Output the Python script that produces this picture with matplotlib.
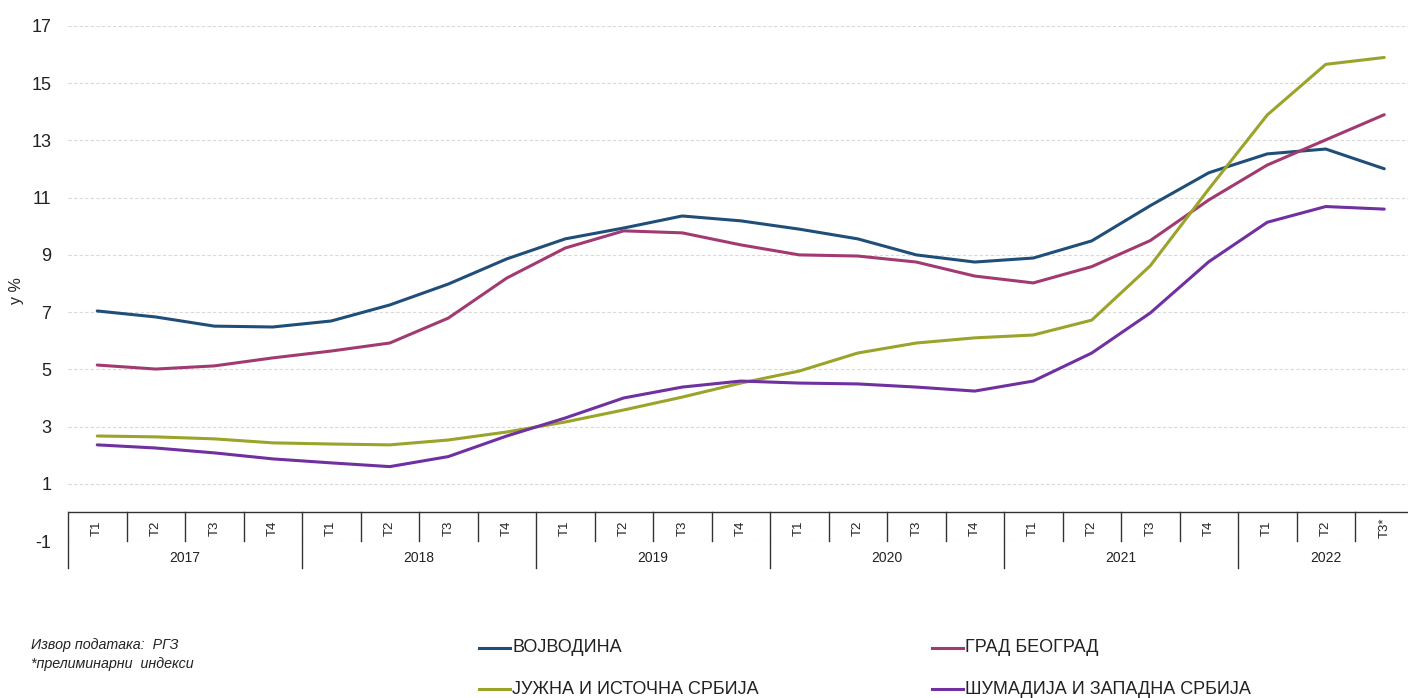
import matplotlib
matplotlib.use("Agg")
import matplotlib.pyplot as plt
from matplotlib.lines import Line2D

plt.rcParams['font.family'] = ['Liberation Sans', 'DejaVu Sans']
plt.rcParams['axes.unicode_minus'] = False

years = ['2017', '2018', '2019', '2020', '2021', '2022']
quarters = ['Т1', 'Т2', 'Т3', 'Т4'] * 5 + ['Т1', 'Т2', 'Т3*']

vojvodina = [7.04, 6.83, 6.51, 6.48, 6.69, 7.25, 7.98, 8.86, 9.56, 9.94, 10.36, 10.19,
             9.90, 9.56, 9.00, 8.75, 8.89, 9.49, 10.72, 11.87, 12.53, 12.70, 12.01]
beograd = [5.15, 5.01, 5.12, 5.40, 5.64, 5.92, 6.79, 8.19, 9.24, 9.84, 9.77, 9.35,
           9.00, 8.96, 8.75, 8.26, 8.02, 8.59, 9.50, 10.92, 12.14, 13.02, 13.90]
juzna = [2.67, 2.64, 2.57, 2.43, 2.39, 2.36, 2.53, 2.81, 3.16, 3.58, 4.03, 4.52,
         4.94, 5.57, 5.92, 6.10, 6.20, 6.72, 8.62, 11.30, 13.89, 15.66, 15.90]
sumadija = [2.36, 2.25, 2.08, 1.87, 1.73, 1.60, 1.95, 2.67, 3.30, 4.00, 4.38, 4.59,
            4.52, 4.49, 4.38, 4.24, 4.59, 5.57, 6.97, 8.76, 10.14, 10.69, 10.60]

series = [
    ('ВОЈВОДИНА', vojvodina, '#1f4e79'),
    ('ГРАД БЕОГРАД', beograd, '#a23a72'),
    ('ЈУЖНА И ИСТОЧНА СРБИЈА', juzna, '#9aa32a'),
    ('ШУМАДИЈА И ЗАПАДНА СРБИЈА', sumadija, '#7030a0'),
]

W, H = 1408, 698
fig = plt.figure(figsize=(W / 100, H / 100), dpi=100)
ax = fig.add_axes([68 / W, 1 - 541 / H, 1 - 68 / W, (541 - 26) / H])

n = len(quarters)
x = list(range(n))
ax.set_xlim(-0.5, n - 0.5 - 5.5 / 58.5)
ax.set_ylim(-1, 17)
ax.set_yticks(range(-1, 18, 2))
ax.tick_params(axis='y', length=0, labelsize=13, pad=12, labelcolor='#222222')
ax.set_xticks([])
for s in ax.spines.values():
    s.set_visible(False)
ax.yaxis.grid(True, color='#d9d9d9', linestyle=(0, (3, 2)), linewidth=0.8)
ax.set_axisbelow(True)
ax.set_ylabel('у %', fontsize=11.5, color='#222222')
ax.yaxis.set_label_coords(-44 / 1340, 0.487)

for name, vals, col in series:
    ax.plot(x, vals, color=col, linewidth=2.2, solid_capstyle='round', zorder=3)

# category table under the zero line
ax.axhline(0, color='#333333', linewidth=1.0, zorder=2)
row_bot = -1.0
year_bot = -1.94
ax.plot([-0.5, -0.5], [0, year_bot], color='#333333', lw=1.0, clip_on=False)
for i in range(1, n):
    xb = i - 0.5
    bottom = year_bot if i % 4 == 0 else row_bot
    ax.plot([xb, xb], [0, bottom], color='#333333', lw=1.0, clip_on=False)
for i, q in enumerate(quarters):
    ax.text(i, -0.55, q, rotation=90, ha='center', va='center', fontsize=9.5,
            color='#222222', clip_on=False)
for k, yr in enumerate(years):
    start = 4 * k
    end = min(start + 4, n)
    ax.text((start + end - 1) / 2, -1.58, yr, ha='center', va='center',
            fontsize=10, color='#222222', clip_on=False)

# source note
fig.text(31 / W, 1 - 645 / H, 'Извор података:  РГЗ', fontsize=10.3, style='italic',
         color='#222222', va='center')
fig.text(31 / W, 1 - 664 / H, '*прелиминарни  индекси', fontsize=10.3, style='italic',
         color='#222222', va='center')

# legend
pos = [(479, 648), (932, 648), (479, 689), (932, 689)]
for (name, vals, col), (lx, ly) in zip(series, pos):
    yy = 1 - ly / H
    fig.add_artist(Line2D([lx / W, (lx + 31) / W], [yy, yy], color=col, linewidth=2.2,
                          transform=fig.transFigure))
    fig.text((lx + 33) / W, yy, name, fontsize=13, va='center', color='#222222')

fig.savefig('out.png', dpi=100)
